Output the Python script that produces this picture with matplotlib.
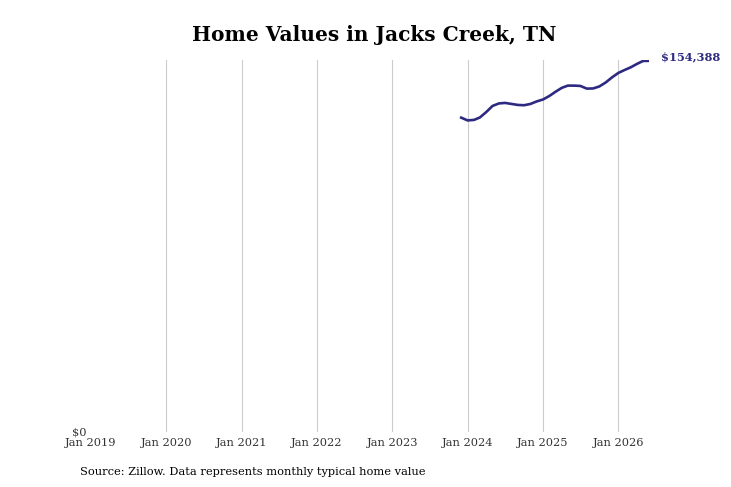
"""Home values line chart for Jacks Creek, TN."""
import matplotlib
matplotlib.use("Agg")
import matplotlib.pyplot as plt
import pandas as pd

# monthly typical home value, Dec 2023 .. Jun 2026
start_month = "2023-12-01"
values = [
    130780, 129620, 129830, 130870, 133150, 135650, 136690, 136900,
    136480, 136060, 135940, 136480, 137520, 138350, 139810, 141470,
    143140, 144100, 144100, 143970, 142850, 142930, 143760, 145430,
    147510, 149380, 150630, 151670, 153120, 154370, 154388,
]
tick_years = [2019, 2020, 2021, 2022, 2023, 2024, 2025, 2026]
tick_labels = [f"Jan {y}" for y in tick_years]
last_label = "$154,388"

dates = pd.date_range(start_month, periods=len(values), freq="MS")
line_color = "#2e2a82"

plt.rcParams["font.family"] = ["DejaVu Serif"]

fig = plt.figure(figsize=(7.31, 4.87), dpi=100)
ax = fig.add_axes([0.1245, 0.113, 0.764, 0.764])

ax.plot(dates, values, color=line_color, lw=1.9)

ax.set_xlim(pd.Timestamp("2019-01-01"), dates[-1])
ax.set_ylim(0, 154800)

ticks = [pd.Timestamp(f"{y}-01-01") for y in tick_years]
ax.set_xticks(ticks)
ax.set_xticklabels(tick_labels, fontsize=8.2, color="#333333")
ax.tick_params(axis="x", length=0, pad=4)

# vertical gridlines, none at the left edge
for t in ticks[1:]:
    ax.axvline(t, color="#cccccc", lw=0.8, zorder=0)

ax.set_yticks([0])
ax.set_yticklabels(["$0"], fontsize=8.2, color="#333333")
ax.tick_params(axis="y", length=0, pad=3)

for s in ax.spines.values():
    s.set_visible(False)

ax.annotate(last_label, xy=(dates[-1], values[-1]), xytext=(8, 3),
            textcoords="offset points", fontsize=8.2, fontweight="bold",
            color=line_color, ha="left", va="center", annotation_clip=False)

fig.text(0.512, 0.928, "Home Values in Jacks Creek, TN", ha="center", va="center",
         fontsize=14.5, fontweight="bold")
fig.text(0.109, 0.03, "Source: Zillow. Data represents monthly typical home value",
         ha="left", va="center", fontsize=8.2)

fig.savefig("out.png", dpi=100)
